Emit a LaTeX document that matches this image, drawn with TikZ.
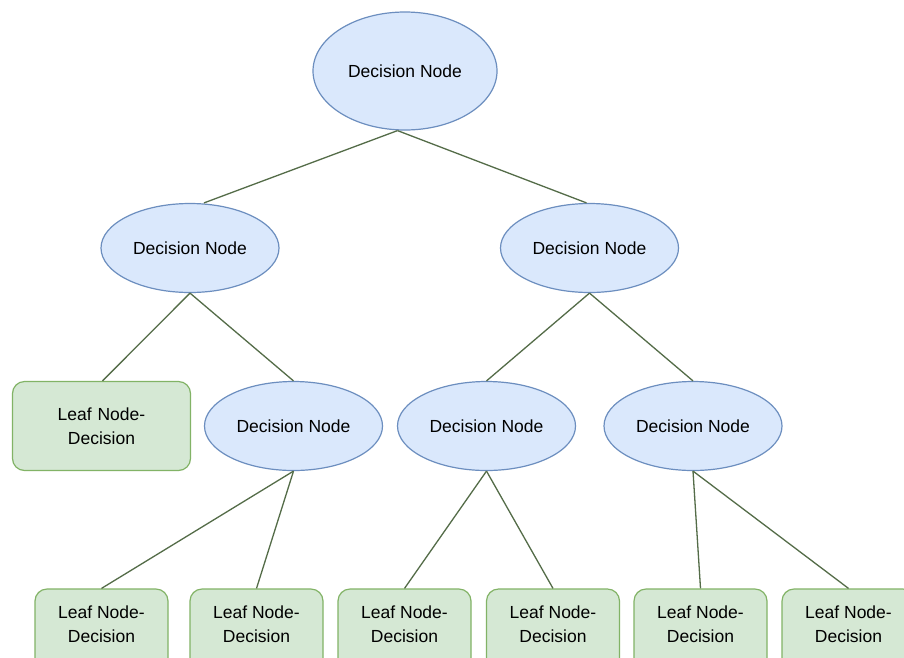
\documentclass[tikz,border=0pt]{standalone}
\usepackage{fontspec}
\setmainfont{Liberation Sans}
\usetikzlibrary{shapes.geometric}
\definecolor{decfill}{HTML}{DAE8FC}
\definecolor{decdraw}{HTML}{6C8EBF}
\definecolor{leaffill}{HTML}{D5E8D4}
\definecolor{leafdraw}{HTML}{82B366}
\definecolor{edgecol}{RGB}{84,108,72}
\tikzset{
  decnode/.style={ellipse, draw=decdraw, fill=decfill, line width=1.2pt, inner sep=0pt,
    minimum width=178pt, minimum height=89pt, font=\fontsize{17.5}{21}\selectfont},
  topnode/.style={decnode, minimum width=184pt, minimum height=118pt},
  leafbox/.style={rectangle, rounded corners=12pt, draw=leafdraw, fill=leaffill, line width=1.2pt,
    inner sep=0pt, minimum width=133pt, minimum height=89pt, align=center,
    font=\fontsize{17.5}{24}\selectfont},
  bigleaf/.style={leafbox, minimum width=178pt},
  leaftext/.style={align=center, font=\fontsize{17.5}{24}\selectfont},
  edge/.style={draw=edgecol, line width=1.3pt}
}
\begin{document}
\begin{tikzpicture}[x=1pt,y=-1pt]
\useasboundingbox (0,0) rectangle (904,657);
\clip (0,0) rectangle (904,657);
\fill[white] (0,0) rectangle (904,657);
% nodes
\node[topnode] (root) at (405,71) {Decision Node};
\node[decnode] (l) at (190,248) {Decision Node};
\node[decnode] (r) at (589.5,248) {Decision Node};
\node[bigleaf, text width=170pt] (leafA) at (101.5,426) {Leaf Node-\\Decision};
\node[decnode] (lr) at (293.5,426) {Decision Node};
\node[decnode] (rl) at (486.5,426) {Decision Node};
\node[decnode] (rr) at (693,426) {Decision Node};
\node[leafbox] (b1) at (101.5,633.5) {};
\node[leafbox] (b2) at (256.5,633.5) {};
\node[leafbox] (b3) at (404.5,633.5) {};
\node[leafbox] (b4) at (553,633.5) {};
\node[leafbox] (b5) at (700.5,633.5) {};
\node[leafbox] (b6) at (848.5,633.5) {};
\node[leaftext] (t1) at ([yshift=-36pt]b1.north) {Leaf Node-\\Decision};
\node[leaftext] (t2) at ([yshift=-36pt]b2.north) {Leaf Node-\\Decision};
\node[leaftext] (t3) at ([yshift=-36pt]b3.north) {Leaf Node-\\Decision};
\node[leaftext] (t4) at ([yshift=-36pt]b4.north) {Leaf Node-\\Decision};
\node[leaftext] (t5) at ([yshift=-36pt]b5.north) {Leaf Node-\\Decision};
\node[leaftext] (t6) at ([yshift=-36pt]b6.north) {Leaf Node-\\Decision};
% connectors
\draw[edge] ([xshift=-7.5pt]root.south) -- ([xshift=14pt]l.north);
\draw[edge] ([xshift=-7.5pt]root.south) -- ([xshift=-3pt]r.north);
\draw[edge] (l.south) -- ([xshift=1pt]leafA.north);
\draw[edge] (l.south) -- (lr.north);
\draw[edge] (r.south) -- (rl.north);
\draw[edge] (r.south) -- (rr.north);
\draw[edge] (lr.south) -- (b1.north);
\draw[edge] (lr.south) -- (b2.north);
\draw[edge] (rl.south) -- (b3.north);
\draw[edge] (rl.south) -- (b4.north);
\draw[edge] (rr.south) -- (b5.north);
\draw[edge] (rr.south) -- (b6.north);
\end{tikzpicture}
\end{document}
